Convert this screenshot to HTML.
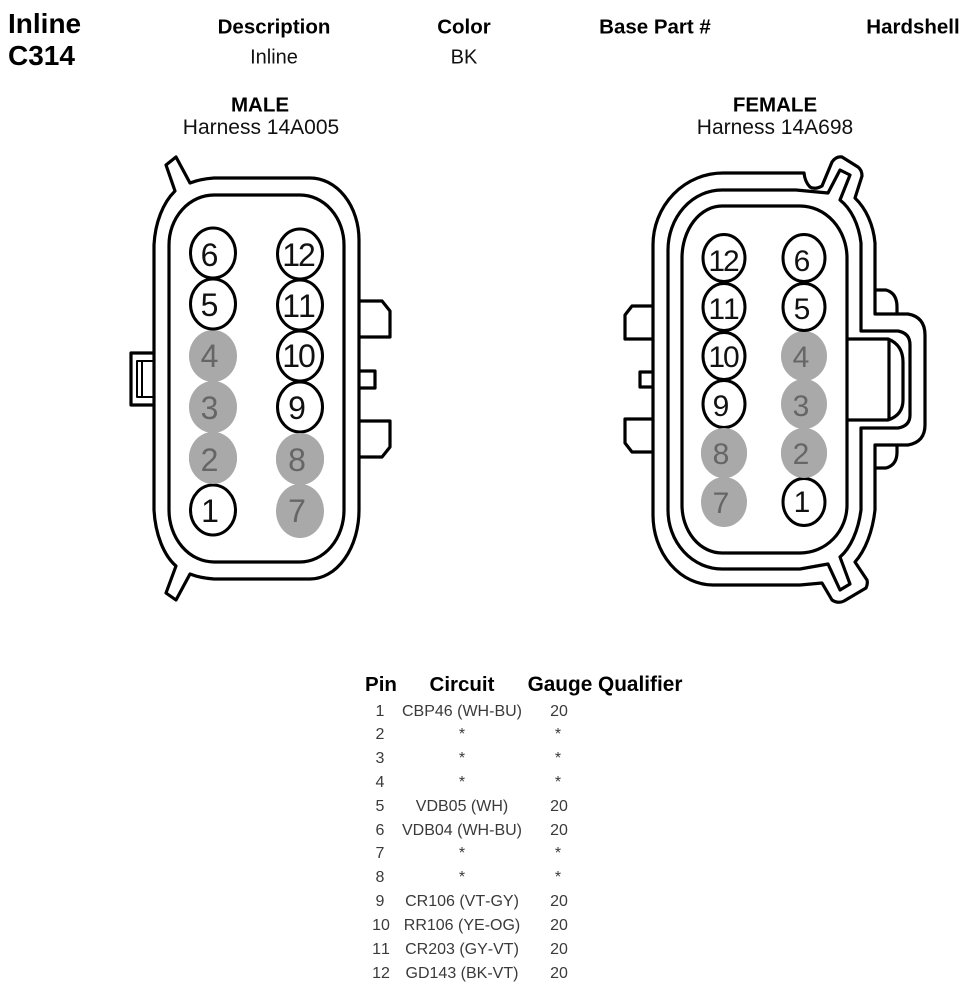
<!DOCTYPE html>
<html>
<head>
<meta charset="utf-8">
<style>
html,body{margin:0;padding:0;background:#fff;}
svg{display:block;}
text{font-family:"Liberation Sans",sans-serif;font-kerning:none;}
.b{font-weight:bold;fill:#000;}
.r{fill:#111;}
.hd{font-size:20.5px;font-weight:bold;fill:#000;text-anchor:middle;}
.rw{font-size:16px;fill:#3a3a3a;text-anchor:middle;}
.ln{fill:none;stroke:#000;stroke-width:3.2;stroke-linejoin:round;}
.o{fill:#fff;stroke:#000;stroke-width:3;}
.g{fill:#a9a9a9;}
.dm{font-size:32px;fill:#111;text-anchor:middle;}
.df{font-size:30px;fill:#111;text-anchor:middle;}
.gt{fill:#666;}
</style>
</head>
<body>
<svg width="968" height="992" viewBox="0 0 968 992" xmlns="http://www.w3.org/2000/svg">
<rect width="968" height="992" fill="#fff"/>

<text x="8" y="33" class="b" font-size="28">Inline</text>
<text x="8" y="65" class="b" font-size="28">C314</text>
<text x="274" y="33.5" class="hd">Description</text>
<text x="464" y="33.5" class="hd">Color</text>
<text x="655" y="33.5" class="hd">Base Part #</text>
<text x="913" y="33.5" class="hd">Hardshell</text>
<text x="274" y="63.5" class="r" font-size="20" text-anchor="middle">Inline</text>
<text x="464" y="63.5" class="r" font-size="20" text-anchor="middle">BK</text>

<text x="260" y="111.5" class="hd">MALE</text>
<text x="261" y="134" class="r" font-size="21" text-anchor="middle">Harness 14A005</text>
<text x="775" y="111.5" class="hd">FEMALE</text>
<text x="775" y="134" class="r" font-size="21" text-anchor="middle">Harness 14A698</text>

<!-- MALE connector -->
<path class="ln" d="M175 191 L166 165 L176 157 L190 183 Q200 179 214 178 L310 178 A49 62 0 0 1 359 240 L359 510 A49 69 0 0 1 310 579 L214 579 Q200 578 190 574 L176 600 L166 593 L176 566 A40 70 0 0 1 154 510 L154 245 A45 70 0 0 1 175 191 Z"/>
<path class="ln" d="M214 195 L300 195 A44 50 0 0 1 344 245 L344 510 A44 52 0 0 1 300 562 L214 562 A45 52 0 0 1 169 510 L169 245 A45 50 0 0 1 214 195 Z"/>
<path class="ln" d="M359 301 L382 301 L390 311 L390 337 L359 337"/>
<path class="ln" d="M359 371 L375 371 L375 388 L359 388"/>
<path class="ln" d="M359 421 L390 421 L390 447 L382 457 L359 457"/>
<path class="ln" d="M154 353 L131 353 L131 405 L154 405"/>
<path class="ln" style="stroke-width:2" d="M154 361 L137 361 L137 397 L154 397 M142 361 L142 397"/>

<ellipse class="g" cx="213" cy="356" rx="24" ry="26"/>
<ellipse class="g" cx="213" cy="407" rx="24" ry="26"/>
<ellipse class="g" cx="213" cy="458" rx="24" ry="26"/>
<ellipse class="g" cx="300" cy="459" rx="24" ry="26"/>
<ellipse class="g" cx="300" cy="511" rx="24" ry="27"/>
<ellipse class="o" cx="213" cy="510" rx="22.5" ry="25"/>
<ellipse class="g" cx="213" cy="458" rx="24" ry="26"/>
<ellipse class="o" cx="213" cy="253" rx="22.5" ry="25"/>
<ellipse class="o" cx="213" cy="304" rx="22.5" ry="25"/>
<ellipse class="o" cx="300" cy="254" rx="22.5" ry="25"/>
<ellipse class="o" cx="300" cy="305" rx="22.5" ry="25"/>
<ellipse class="o" cx="300" cy="356" rx="22.5" ry="25"/>
<ellipse class="o" cx="300" cy="407" rx="22.5" ry="25"/>
<ellipse class="g" cx="300" cy="459" rx="24" ry="26"/>

<text class="dm" x="209.5" y="266">6</text>
<text class="dm" x="209.5" y="316">5</text>
<text class="dm gt" x="209.5" y="367">4</text>
<text class="dm gt" x="209.5" y="419">3</text>
<text class="dm gt" x="209.5" y="471">2</text>
<text class="dm" x="210" y="522">1</text>
<text class="dm" x="298" y="266" letter-spacing="-2">12</text>
<text class="dm" x="298" y="317" letter-spacing="-2">11</text>
<text class="dm" x="298" y="367" letter-spacing="-2">10</text>
<text class="dm" x="297" y="419">9</text>
<text class="dm gt" x="297" y="471">8</text>
<text class="dm gt" x="297" y="522">7</text>

<!-- FEMALE connector -->
<path class="ln" d="M804 173 L723 173 A70 72 0 0 0 653 245 L653 515 A60 70 0 0 0 713 585 L800 585 L822 583 L832 600 Q838 604 844 601 L866 588 Q868 584 867 580 L855 562 A45 80 0 0 0 875 510 L875 445 L908 445 Q925 442 925 425 L925 335 Q925 317 908 314 L875 314 L875 243 A50 65 0 0 0 855 198 L862 176 Q862 170 858 167 L842 157 Q836 156 832 162 L822 186 Q815 190 810 187 Q805 182 804 173 Z"/>
<path class="ln" d="M828 193 L796 190 L722 190 A54 60 0 0 0 668 250 L668 510 A54 59 0 0 0 722 569 L800 569 L828 564 L840 590 L850 584 L840 557 A38 70 0 0 0 861 510 L861 428 L898 428 Q910 426 910 415 L910 345 Q910 333 898 331 L861 331 L861 243 A40 60 0 0 0 840 200 L850 175 L840 170 Z"/>
<path class="ln" d="M722 206 L800 206 A47 52 0 0 1 847 258 L847 505 A47 48 0 0 1 800 553 L722 553 A40 48 0 0 1 682 505 L682 258 A40 52 0 0 1 722 206 Z"/>
<path class="ln" d="M847 339 L888 339 Q903 345 903 362 L903 400 Q903 415 888 420 L847 420 M889 339 L889 420"/>
<path class="ln" d="M875 290 L886 290 Q897 293 897 307 L897 314"/>
<path class="ln" d="M875 468 L886 468 Q897 465 897 452 L897 445"/>
<path class="ln" d="M653 306 L632 306 L625 315 L625 339 L653 339"/>
<path class="ln" d="M653 372 L640 372 L640 387 L653 387"/>
<path class="ln" d="M653 419 L625 419 L625 443 L632 452 L653 452"/>

<ellipse class="g" cx="804" cy="356" rx="23" ry="25"/>
<ellipse class="g" cx="804" cy="404" rx="23" ry="25"/>
<ellipse class="g" cx="804" cy="453" rx="23" ry="25"/>
<ellipse class="g" cx="724" cy="453" rx="23" ry="25"/>
<ellipse class="g" cx="724" cy="502" rx="23" ry="25"/>
<ellipse class="o" cx="804" cy="502" rx="21" ry="23.5"/>
<ellipse class="g" cx="804" cy="453" rx="23" ry="25"/>
<ellipse class="o" cx="724" cy="258" rx="21" ry="23.5"/>
<ellipse class="o" cx="724" cy="307" rx="21" ry="23.5"/>
<ellipse class="o" cx="724" cy="356" rx="21" ry="23.5"/>
<ellipse class="o" cx="724" cy="404" rx="21" ry="23.5"/>
<ellipse class="g" cx="724" cy="453" rx="23" ry="25"/>
<ellipse class="o" cx="804" cy="258" rx="21" ry="23.5"/>
<ellipse class="o" cx="804" cy="307" rx="21" ry="23.5"/>

<text class="df" x="723" y="271" letter-spacing="-2">12</text>
<text class="df" x="723" y="319" letter-spacing="-2">11</text>
<text class="df" x="723" y="367" letter-spacing="-2">10</text>
<text class="df" x="721" y="416">9</text>
<text class="df gt" x="721" y="464">8</text>
<text class="df gt" x="721" y="513">7</text>
<text class="df" x="802" y="271">6</text>
<text class="df" x="802" y="319">5</text>
<text class="df gt" x="801" y="367">4</text>
<text class="df gt" x="801" y="416">3</text>
<text class="df gt" x="801" y="464">2</text>
<text class="df" x="802" y="512">1</text>

<!-- Table -->
<text x="381" y="691" class="hd">Pin</text>
<text x="462" y="691" class="hd">Circuit</text>
<text x="605" y="691" class="hd" style="font-size:20.8px">Gauge Qualifier</text>

<g>
<text class="rw" x="380" y="716">1</text><text class="rw" x="462" y="716">CBP46 (WH-BU)</text><text class="rw" x="559" y="716">20</text>
<text class="rw" x="380" y="739">2</text><text class="rw" x="462" y="739">*</text><text class="rw" x="558" y="739">*</text>
<text class="rw" x="380" y="763">3</text><text class="rw" x="462" y="763">*</text><text class="rw" x="558" y="763">*</text>
<text class="rw" x="380" y="787">4</text><text class="rw" x="462" y="787">*</text><text class="rw" x="558" y="787">*</text>
<text class="rw" x="380" y="811">5</text><text class="rw" x="462" y="811">VDB05 (WH)</text><text class="rw" x="559" y="811">20</text>
<text class="rw" x="380" y="835">6</text><text class="rw" x="462" y="835">VDB04 (WH-BU)</text><text class="rw" x="559" y="835">20</text>
<text class="rw" x="380" y="858">7</text><text class="rw" x="462" y="858">*</text><text class="rw" x="558" y="858">*</text>
<text class="rw" x="380" y="882">8</text><text class="rw" x="462" y="882">*</text><text class="rw" x="558" y="882">*</text>
<text class="rw" x="380" y="906">9</text><text class="rw" x="462" y="906">CR106 (VT-GY)</text><text class="rw" x="559" y="906">20</text>
<text class="rw" x="381" y="930">10</text><text class="rw" x="462" y="930">RR106 (YE-OG)</text><text class="rw" x="559" y="930">20</text>
<text class="rw" x="381" y="954">11</text><text class="rw" x="462" y="954">CR203 (GY-VT)</text><text class="rw" x="559" y="954">20</text>
<text class="rw" x="381" y="978">12</text><text class="rw" x="462" y="978">GD143 (BK-VT)</text><text class="rw" x="559" y="978">20</text>
</g>
</svg>
</body>
</html>
